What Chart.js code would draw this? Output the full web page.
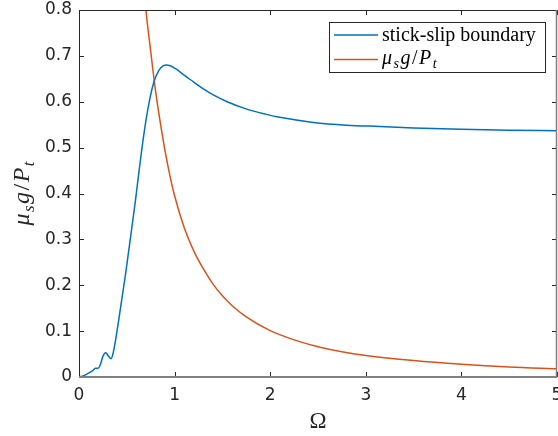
<!DOCTYPE html>
<html>
<head>
<meta charset="utf-8">
<script src="https://cdn.jsdelivr.net/npm/chart.js@4/dist/chart.umd.min.js"></script>
<style>
html, body { margin: 0; padding: 0; background: #fff; }
#wrap { width: 558px; height: 436px; }
</style>
</head>
<body>
<div id="wrap"><canvas id="grafico"></canvas></div>
<script>
// curva blu: confine stick-slip
var omegaBlu = [0, 0.05, 0.105, 0.15, 0.175, 0.2, 0.22, 0.25, 0.279, 0.31, 0.335, 0.36, 0.383, 0.436, 0.488, 0.54, 0.59, 0.63, 0.68, 0.732, 0.785, 0.837, 0.88, 0.913, 0.96, 1.01, 1.1, 1.2, 1.3, 1.405, 1.55, 1.754, 1.95, 2.1, 2.45, 2.8, 3.15, 3.5, 4.0, 4.5, 5.0];
var confine = [0, 0.003, 0.009, 0.015, 0.019, 0.019, 0.025, 0.045, 0.053, 0.045, 0.04, 0.055, 0.081, 0.153, 0.226, 0.306, 0.384, 0.452, 0.531, 0.597, 0.644, 0.669, 0.678, 0.68, 0.678, 0.672, 0.658, 0.643, 0.628, 0.615, 0.6, 0.584, 0.573, 0.566, 0.555, 0.549, 0.546, 0.543, 0.54, 0.538, 0.537];

// curva rossa: mu_s g / P_t
var omegaRosso = [0.66, 0.7, 0.75, 0.8, 0.85, 0.9, 0.95, 1.0, 1.1, 1.2, 1.3, 1.4, 1.5, 1.6, 1.75, 2.0, 2.25, 2.5, 2.75, 3.0, 3.5, 4.0, 4.5, 5.0];
var rapporto = [0.9, 0.8, 0.71, 0.625, 0.555, 0.493, 0.44, 0.395, 0.326, 0.275, 0.236, 0.203, 0.177, 0.156, 0.131, 0.101, 0.081, 0.066, 0.055, 0.047, 0.036, 0.028, 0.022, 0.018];

var xTicks = [0, 1, 2, 3, 4, 5];
var yTicks = [0, 0.1, 0.2, 0.3, 0.4, 0.5, 0.6, 0.7, 0.8];

var BLU = '#0072BD';
var ROSSO = '#D95319';
var ASSE = '#262626';

// mu_s g / P_t scritto a pezzi (testo, corsivo, pedice)
var formula = [['μ', true, false], ['s', true, true], ['g', true, false], ['/', false, false], ['P', true, false], ['t', true, true]];

function fontPezzo(p, size) {
    var s = p[2] ? size * 0.7 : size;
    return (p[1] ? 'italic ' : '') + s + 'px "Liberation Serif", serif';
}

function larghezzaFormula(ctx, size) {
    var w = 0;
    formula.forEach(function (p) {
        ctx.font = fontPezzo(p, size);
        w += ctx.measureText(p[0]).width + 1.5;
    });
    return w - 1.5;
}

function scriviFormula(ctx, x, y, size) {
    ctx.textAlign = 'left';
    ctx.textBaseline = 'alphabetic';
    formula.forEach(function (p) {
        ctx.font = fontPezzo(p, size);
        ctx.fillText(p[0], x, p[2] ? y + size * 0.22 : y);
        x += ctx.measureText(p[0]).width + 1.5;
    });
}

var boxMatlab = {
    id: 'boxMatlab',
    afterDraw(chart) {
        var ctx = chart.ctx;
        var a = chart.chartArea;
        var sx = chart.scales.x;
        var sy = chart.scales.y;
        ctx.save();

        // tacche verso l'interno, anche sopra e a destra
        ctx.strokeStyle = ASSE;
        ctx.lineWidth = 1;
        ctx.beginPath();
        xTicks.forEach(function (v) {
            var p = Math.round(sx.getPixelForValue(v)) + 0.5;
            ctx.moveTo(p, a.bottom); ctx.lineTo(p, a.bottom - 5);
            ctx.moveTo(p, a.top); ctx.lineTo(p, a.top + 5);
        });
        yTicks.forEach(function (v) {
            var p = Math.round(sy.getPixelForValue(v)) + 0.5;
            ctx.moveTo(a.left, p); ctx.lineTo(a.left + 5, p);
            ctx.moveTo(a.right, p); ctx.lineTo(a.right - 5, p);
        });
        ctx.stroke();

        // cornice
        ctx.beginPath();
        ctx.moveTo(a.left + 0.5, a.bottom);
        ctx.lineTo(a.left + 0.5, a.top + 0.5);
        ctx.lineTo(a.right - 0.5, a.top + 0.5);
        ctx.stroke();
        ctx.strokeStyle = '#808080';
        ctx.lineWidth = 1.5;
        ctx.beginPath();
        ctx.moveTo(a.right - 0.5, a.top);
        ctx.lineTo(a.right - 0.5, a.bottom);
        ctx.stroke();
        ctx.lineWidth = 2;
        ctx.beginPath();
        ctx.moveTo(a.left, a.bottom);
        ctx.lineTo(a.right, a.bottom);
        ctx.stroke();

        // titoli assi
        ctx.fillStyle = ASSE;
        ctx.font = '23px "Liberation Serif", serif';
        ctx.textAlign = 'center';
        ctx.textBaseline = 'alphabetic';
        ctx.fillText('Ω', (a.left + a.right) / 2, 428);

        ctx.save();
        ctx.translate(29, (a.top + a.bottom) / 2);
        ctx.rotate(-Math.PI / 2);
        var wy = larghezzaFormula(ctx, 24);
        scriviFormula(ctx, -wy / 2, 0, 24);
        ctx.restore();

        // legenda
        ctx.fillStyle = '#fff';
        ctx.fillRect(329.5, 22.5, 216, 50);
        ctx.strokeStyle = ASSE;
        ctx.lineWidth = 1;
        ctx.strokeRect(329.5, 22.5, 216, 50);
        ctx.lineWidth = 1.5;
        ctx.strokeStyle = BLU;
        ctx.beginPath(); ctx.moveTo(334, 35); ctx.lineTo(378, 35); ctx.stroke();
        ctx.strokeStyle = ROSSO;
        ctx.beginPath(); ctx.moveTo(334, 59.5); ctx.lineTo(378, 59.5); ctx.stroke();
        ctx.fillStyle = '#000';
        ctx.font = '20px "Liberation Serif", serif';
        ctx.textAlign = 'left';
        ctx.fillText('stick-slip boundary', 382, 40.5);
        scriviFormula(ctx, 382, 64, 20);

        ctx.restore();
    }
};

var ctx = document.getElementById('grafico');

var myChart = new Chart(ctx, {
    type: 'line',
    data: {
        datasets: [{
            label: 'stick-slip boundary',
            data: omegaBlu.map(function (x, i) { return { x: x, y: confine[i] }; }),
            borderColor: BLU,
            borderWidth: 1.5,
            pointRadius: 0,
            fill: false,
            cubicInterpolationMode: 'monotone'
        }, {
            label: 'μsg/Pt',
            data: omegaRosso.map(function (x, i) { return { x: x, y: rapporto[i] }; }),
            borderColor: ROSSO,
            borderWidth: 1.5,
            pointRadius: 0,
            fill: false,
            cubicInterpolationMode: 'monotone'
        }]
    },
    options: {
        responsive: true,
        maintainAspectRatio: false,
        animation: false,
        layout: {
            padding: { top: 10, right: 1, left: 0, bottom: 0 }
        },
        scales: {
            x: {
                type: 'linear',
                min: 0,
                max: 5,
                afterFit: function (s) { s.height = 59; s.paddingLeft = 0; s.paddingRight = 0; },
                afterBuildTicks: function (s) { s.ticks = xTicks.map(function (v) { return { value: v }; }); },
                grid: { display: false, drawTicks: false },
                border: { display: false },
                ticks: {
                    padding: 8,
                    color: ASSE,
                    maxRotation: 0,
                    font: { family: 'DejaVu Sans', size: 17 }
                }
            },
            y: {
                min: 0,
                max: 0.8,
                afterFit: function (s) { s.width = 79; s.paddingTop = 0; s.paddingBottom = 0; },
                afterBuildTicks: function (s) { s.ticks = yTicks.map(function (v) { return { value: v }; }); },
                grid: { display: false, drawTicks: false },
                border: { display: false },
                ticks: {
                    padding: 7,
                    color: ASSE,
                    font: { family: 'DejaVu Sans', size: 17 },
                    callback: function (v) { return String(+v.toFixed(1)); }
                }
            }
        },
        plugins: {
            legend: { display: false },
            tooltip: { enabled: false }
        }
    },
    plugins: [boxMatlab]
});
</script>
</body>
</html>
